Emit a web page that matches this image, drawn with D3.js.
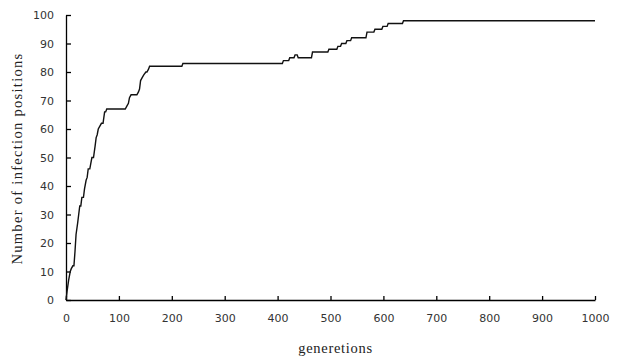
<!DOCTYPE html>
<html lang="en">
<head>
<meta charset="UTF-8">
<title>Infection positions</title>
<script src="https://d3js.org/d3.v7.min.js"></script>
<style>
  body { margin: 0; background: #fff; }
  .axis path, .axis line { stroke: #000; stroke-width: 1.3px; }
  .axis text { font-family: "DejaVu Sans", Verdana, sans-serif; font-size: 11px; fill: #333; }
  .title { font-family: "Liberation Serif", serif; font-size: 14.5px; fill: #222; letter-spacing: 0.7px; }
  .curve { fill: none; stroke: #111; stroke-width: 1.4px; }
</style>
</head>
<body>
<div id="chart"></div>
<script>
// generations (x) and number of infection positions (y)
const gens = [0, 2, 5, 8, 10, 13, 15, 17, 19, 22, 24, 26, 28, 30, 33, 35, 38, 40, 42, 45, 47, 49, 52, 55, 57, 59, 61, 64, 67, 70, 73, 75, 77, 80, 82, 84,
  112, 115, 118, 120, 123, 134, 137, 139, 141, 144, 147, 151, 153, 156, 158, 161, 219, 221,
  409, 411, 421, 423, 431, 433, 437, 439, 464, 466, 495, 497, 512, 514, 519, 521, 529, 531, 538, 540,
  567, 569, 582, 584, 597, 599, 607, 609, 636, 638, 1000];
const values = [0, 3, 7, 10, 11, 12, 12, 17, 23, 27, 30, 33, 33, 36, 36, 39, 42, 43, 46, 46, 48, 50, 50, 54, 57, 58, 60, 61, 62, 62, 66, 66, 67, 67, 67, 67,
  67, 68, 69, 71, 72, 72, 73, 74, 77, 78, 79, 80, 80, 81, 82, 82, 82, 83,
  83, 84, 84, 85, 85, 86, 86, 85, 85, 87, 87, 88, 88, 89, 89, 90, 90, 91, 91, 92,
  92, 94, 94, 95, 95, 96, 96, 97, 97, 98, 98];
const xTicks = [0, 100, 200, 300, 400, 500, 600, 700, 800, 900, 1000];
const yTicks = [0, 10, 20, 30, 40, 50, 60, 70, 80, 90, 100];

const width = 621, height = 358;
const margin = { top: 15, right: 26, bottom: 58, left: 66 };

const svg = d3.select("#chart").append("svg")
  .attr("width", width).attr("height", height);

const x = d3.scaleLinear().domain([0, 1000]).range([margin.left, width - margin.right]);
const y = d3.scaleLinear().domain([0, 100]).range([height - margin.bottom, margin.top]);

svg.append("g")
  .attr("class", "axis")
  .attr("transform", `translate(0,${height - margin.bottom})`)
  .call(d3.axisBottom(x).tickValues(xTicks).tickFormat(d3.format("d"))
    .tickSizeInner(-4).tickSizeOuter(0).tickPadding(14));

svg.append("g")
  .attr("class", "axis")
  .attr("transform", `translate(${margin.left},0)`)
  .call(d3.axisLeft(y).tickValues(yTicks).tickFormat(d3.format("d"))
    .tickSizeInner(-5).tickSizeOuter(0).tickPadding(12));

const line = d3.line()
  .x((d, i) => x(gens[i]))
  .y(d => y(d));

svg.append("path")
  .datum(values)
  .attr("class", "curve")
  .attr("d", line);

svg.append("text")
  .attr("class", "title")
  .attr("x", x(500) + 5)
  .attr("y", 353)
  .attr("text-anchor", "middle")
  .text("generetions");

svg.append("text")
  .attr("class", "title")
  .attr("transform", `translate(22,${y(50) + 1}) rotate(-90)`)
  .attr("text-anchor", "middle")
  .style("letter-spacing", "1.3px")
  .text("Number of infection positions");
</script>
</body>
</html>
